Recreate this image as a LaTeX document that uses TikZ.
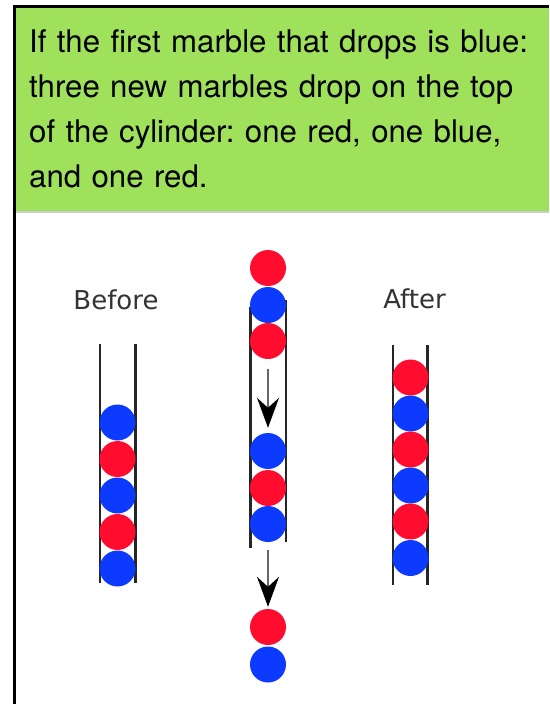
\documentclass[tikz,border=0pt]{standalone}
\usepackage{fontspec}
\setmainfont{TeX Gyre Heros}
\newfontfamily\labelfont{DejaVu Sans}
\usetikzlibrary{arrows.meta}
\definecolor{boxgreen}{RGB}{160,225,92}
\definecolor{marblered}{RGB}{255,12,46}
\definecolor{marbleblue}{RGB}{12,58,255}
\frenchspacing

\begin{document}
\begin{tikzpicture}[x=1pt,y=-1pt,
  redball/.style={circle,fill=marblered,minimum size=36pt,inner sep=0pt},
  blueball/.style={circle,fill=marbleblue,minimum size=36pt,inner sep=0pt},
  wall/.style={line width=2.6pt,black!85},
  drop/.style={line width=1.5pt,black!60,-{Stealth[black,length=30pt,width=22pt,inset=10pt]}},
  tubelabel/.style={font=\labelfont\fontsize{26}{30}\selectfont,text=black!80,inner sep=0pt,anchor=base}]
  \useasboundingbox (0,0) rectangle (549,704);
  % header
  \fill[boxgreen] (16,7) rectangle (549,212);
  \draw[line width=1.5pt,black!20] (16,212) -- (549,212);
  \draw[line width=3pt] (14.5,704) -- (14.5,6.2) -- (549,6.2);
  \node[anchor=base west,inner sep=0pt,text width=515pt,align=left,
        font=\fontsize{31.2}{45.3}\selectfont] (caption) at (29,52)
    {If the first marble that drops is blue:\\three new marbles drop on the top\\of the cylinder: one red, one blue,\\and one red.};
  % before
  \node[tubelabel] (before) at (116,309.5) {Before};
  \draw[wall] (100,344) -- (100,583);
  \draw[wall] (135.7,344) -- (135.7,583);
  \node[blueball] (b1) at (117.5,422.5) {};
  \node[redball]  (b2) at (117.5,459) {};
  \node[blueball] (b3) at (117.5,495.5) {};
  \node[redball]  (b4) at (117.5,532) {};
  \node[blueball] (b5) at (117.5,568.5) {};
  % middle
  \draw[wall] (250.5,307) -- (250.5,548);
  \draw[wall] (286,300) -- (286,542);
  \node[redball]  (m1) at (268,268) {};
  \node[blueball] (m2) at (268,305) {};
  \node[redball]  (m3) at (268,341) {};
  \node[blueball] (m4) at (268,451) {};
  \node[redball]  (m5) at (268,488) {};
  \node[blueball] (m6) at (268,524) {};
  \node[redball]  (m7) at (268,627) {};
  \node[blueball] (m8) at (268,664.5) {};
  \draw[drop] ([yshift=-10pt]m3.south) -- ([yshift=5pt]m4.north);
  \draw[drop] ([yshift=-8pt]m6.south) -- ([yshift=2pt]m7.north);
  % after
  \node[tubelabel] (after) at (414.5,308) {After};
  \draw[wall] (393,345) -- (393,585);
  \draw[wall] (427.7,345) -- (427.7,585);
  \node[redball]  (a1) at (410.5,377.5) {};
  \node[blueball] (a2) at (410.5,413.5) {};
  \node[redball]  (a3) at (410.5,449.5) {};
  \node[blueball] (a4) at (410.5,485.5) {};
  \node[redball]  (a5) at (410.5,521.5) {};
  \node[blueball] (a6) at (410.5,558) {};
\end{tikzpicture}
\end{document}
